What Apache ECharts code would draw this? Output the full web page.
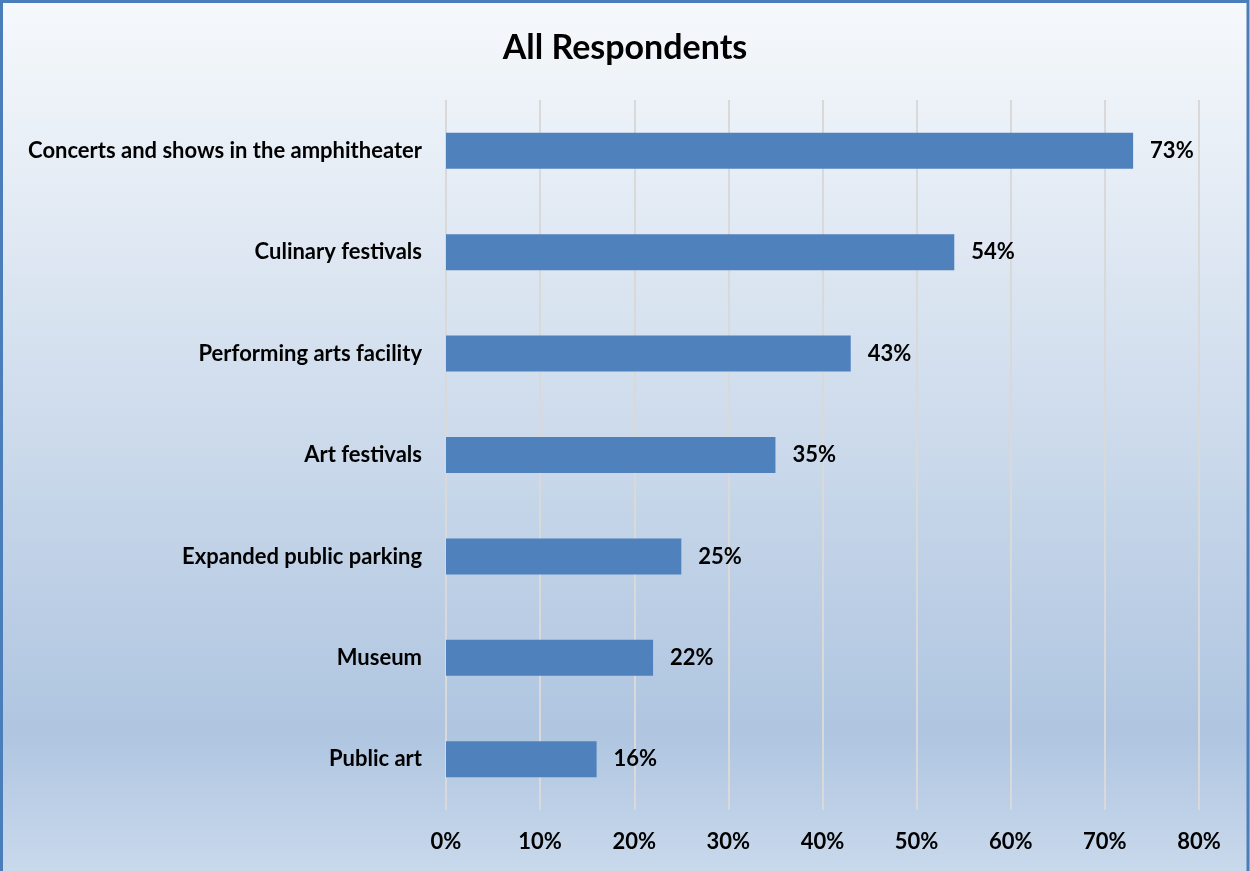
<!DOCTYPE html>
<html>
<head>
<meta charset="utf-8">
<script src="https://cdn.jsdelivr.net/npm/echarts@6/dist/echarts.min.js"></script>
<style>
  html, body { margin: 0; padding: 0; }
  #chart { width: 1250px; height: 871px; }
</style>
</head>
<body>
<div id="chart"></div>
<script>
// Survey: which amenities respondents would use (share of all respondents)
const categories = [
  'Concerts and shows in the amphitheater',
  'Culinary festivals',
  'Performing arts facility',
  'Art festivals',
  'Expanded public parking',
  'Museum',
  'Public art'
];
const shares = [73, 54, 43, 35, 25, 22, 16];
const axisMin = 0;
const axisMax = 80;
const axisStep = 10;

const FONT = 'Lato, "Open Sans", sans-serif';

const chart = echarts.init(document.getElementById('chart'), null, { renderer: 'canvas' });

chart.setOption({
  backgroundColor: {
    type: 'linear', x: 0, y: 0, x2: 0, y2: 1,
    colorStops: [
      { offset: 0, color: '#F6F9FC' },
      { offset: 0.15, color: '#EAF0F7' },
      { offset: 0.84, color: '#AFC5E0' },
      { offset: 1, color: '#C9D9EC' }
    ]
  },
  animation: false,
  title: {
    text: 'All Respondents',
    left: 'center',
    top: 26,
    textStyle: { fontFamily: FONT, fontWeight: 'bold', fontSize: 34, color: '#000' }
  },
  grid: { left: 446, right: 51, top: 100, bottom: 61, containLabel: false },
  xAxis: {
    type: 'value',
    min: axisMin,
    max: axisMax,
    interval: axisStep,
    axisLine: { show: false },
    axisTick: { show: false },
    axisLabel: {
      formatter: '{value}%',
      margin: 21,
      fontFamily: FONT, fontWeight: 'bold', fontSize: 22, color: '#000'
    },
    splitLine: { show: true, lineStyle: { color: '#D9D9D9', width: 2 } }
  },
  yAxis: {
    type: 'category',
    data: categories,
    inverse: true,
    axisLine: { show: false },
    axisTick: { show: false },
    axisLabel: {
      margin: 24,
      fontFamily: FONT, fontWeight: 'bold', fontSize: 22, color: '#000'
    }
  },
  series: [{
    type: 'bar',
    data: shares,
    barWidth: 36,
    itemStyle: { color: '#4F81BD' },
    label: {
      show: true,
      position: 'right',
      distance: 17,
      formatter: '{c}%',
      fontFamily: FONT, fontWeight: 'bold', fontSize: 22, color: '#000'
    }
  }],
  graphic: [{
    type: 'rect',
    silent: true,
    shape: { x: 1.5, y: 1.5, width: 1246.5, height: 880 },
    style: { fill: 'none', stroke: '#4A7EBB', lineWidth: 3 }
  }]
});
</script>
</body>
</html>
